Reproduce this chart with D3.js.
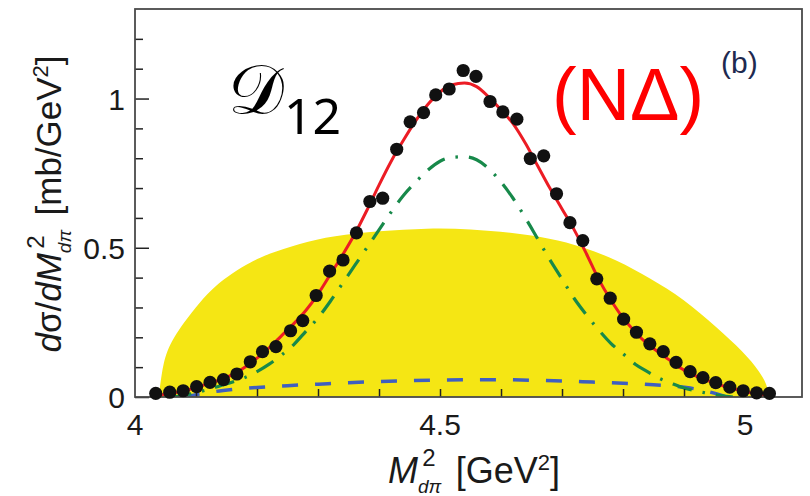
<!DOCTYPE html>
<html>
<head>
<meta charset="utf-8">
<script src="https://cdn.jsdelivr.net/npm/d3@7"></script>
<style>
  html, body { margin: 0; padding: 0; background: #fff; }
  svg { display: block; }
  text { font-family: "Liberation Sans", Arial, sans-serif; }
</style>
</head>
<body>
<svg id="chart" width="810" height="496"></svg>
<script>
// Invariant-mass distribution M^2_{dπ}: measured points, fit components and phase space.

// Measured cross section (GeV^2, mb/GeV^2)
const dataX = [4.034, 4.057, 4.079, 4.101, 4.123, 4.145, 4.167, 4.189, 4.209, 4.231,
  4.255, 4.275, 4.297, 4.319, 4.341, 4.363, 4.385, 4.406, 4.429, 4.451,
  4.473, 4.493, 4.515, 4.538, 4.559, 4.582, 4.603, 4.626, 4.648, 4.670,
  4.691, 4.713, 4.734, 4.757, 4.779, 4.801, 4.822, 4.844, 4.866, 4.887,
  4.910, 4.931, 4.952, 4.975, 4.997, 5.019, 5.040];
const dataY = [0.012, 0.016, 0.021, 0.035, 0.049, 0.058, 0.077, 0.118, 0.152, 0.169,
  0.222, 0.256, 0.340, 0.422, 0.459, 0.550, 0.655, 0.666, 0.830, 0.922,
  0.953, 1.012, 1.032, 1.094, 1.074, 0.990, 0.955, 0.931, 0.799, 0.808,
  0.681, 0.584, 0.524, 0.396, 0.331, 0.261, 0.217, 0.178, 0.152, 0.116,
  0.085, 0.065, 0.048, 0.033, 0.021, 0.014, 0.012];

// Full calculation (red solid)
const totalX = [4.035, 4.06, 4.08, 4.10, 4.12, 4.14, 4.16, 4.18, 4.20, 4.22, 4.24, 4.26, 4.28,
  4.30, 4.32, 4.34, 4.36, 4.38, 4.40, 4.42, 4.44, 4.46, 4.48, 4.50, 4.52, 4.54, 4.56,
  4.58, 4.60, 4.62, 4.64, 4.66, 4.68, 4.70, 4.72, 4.74, 4.76, 4.78, 4.80, 4.82, 4.84,
  4.86, 4.88, 4.90, 4.92, 4.94, 4.96, 4.98, 5.00, 5.02, 5.04];
const totalY = [0.004, 0.013, 0.02, 0.032, 0.045, 0.058, 0.075, 0.10, 0.13, 0.165, 0.205, 0.245, 0.29,
  0.345, 0.41, 0.475, 0.545, 0.625, 0.71, 0.79, 0.86, 0.925, 0.98, 1.022, 1.046, 1.052, 1.04,
  1.005, 0.962, 0.915, 0.85, 0.775, 0.70, 0.63, 0.56, 0.48, 0.395, 0.325, 0.265, 0.218, 0.178,
  0.148, 0.118, 0.09, 0.07, 0.054, 0.04, 0.028, 0.018, 0.01, 0.004];

// Resonance component (green dash-dot)
const resX = [4.06, 4.08, 4.10, 4.12, 4.14, 4.16, 4.18, 4.20, 4.22, 4.24, 4.26, 4.28, 4.30,
  4.32, 4.34, 4.36, 4.38, 4.40, 4.42, 4.44, 4.46, 4.48, 4.50, 4.52, 4.54, 4.56, 4.58,
  4.60, 4.62, 4.64, 4.66, 4.68, 4.70, 4.72, 4.74, 4.76, 4.78, 4.80, 4.82, 4.84, 4.86,
  4.88, 4.90, 4.92, 4.94, 4.96, 4.98];
const resY = [0.0, 0.005, 0.015, 0.025, 0.038, 0.05, 0.065, 0.085, 0.11, 0.14, 0.175, 0.22, 0.265,
  0.32, 0.38, 0.44, 0.50, 0.56, 0.62, 0.675, 0.72, 0.76, 0.79, 0.803, 0.805, 0.795, 0.765,
  0.72, 0.665, 0.60, 0.53, 0.46, 0.395, 0.33, 0.275, 0.225, 0.18, 0.145, 0.11, 0.085, 0.062,
  0.045, 0.03, 0.02, 0.012, 0.005, 0.0];

// Background component (blue dashed)
const bgX = [4.08, 4.10, 4.12, 4.16, 4.20, 4.25, 4.30, 4.35, 4.40, 4.45, 4.50, 4.55, 4.60,
  4.65, 4.70, 4.75, 4.80, 4.85, 4.88, 4.91, 4.94, 4.97];
const bgY = [0.0, 0.008, 0.015, 0.025, 0.032, 0.038, 0.043, 0.048, 0.052, 0.055, 0.057, 0.058, 0.058,
  0.056, 0.054, 0.05, 0.046, 0.041, 0.037, 0.03, 0.018, 0.0];

// Phase-space distribution (yellow area)
const psX = [4.039, 4.040, 4.041, 4.044, 4.047, 4.052, 4.064, 4.079, 4.107, 4.13, 4.161, 4.19, 4.216, 4.27,
  4.325, 4.40, 4.48, 4.55, 4.62, 4.68, 4.734, 4.79, 4.844, 4.899, 4.954, 4.997, 5.025, 5.036, 5.038, 5.039];
const psY = [0, 0.02, 0.035, 0.08, 0.113, 0.152, 0.2, 0.247, 0.32, 0.37, 0.418, 0.452, 0.478, 0.515,
  0.54, 0.556, 0.566, 0.563, 0.55, 0.532, 0.504, 0.459, 0.398, 0.33, 0.232, 0.152, 0.083, 0.04, 0.015, 0];

// Axis ticks
const xMinorTicks = d3.range(41, 51).map(v => v / 10);
const xTickLabels = [4, 4.5, 5];
const yMinorTicks = d3.range(1, 13).map(v => v / 10);
const yMajorTicks = [0, 0.5, 1];

const svg = d3.select("#chart");
const plotLeft = 135, plotRight = 802, plotTop = 9, plotBottom = 397;

const x = d3.scaleLinear().domain([4, 5.0934]).range([plotLeft, plotRight]);
const y = d3.scaleLinear().domain([0, 1.3]).range([plotBottom, plotTop]);

const zip = (xs, ys) => xs.map((v, i) => [v, ys[i]]);

svg.append("defs").append("clipPath").attr("id", "plotClip")
  .append("rect").attr("x", plotLeft).attr("y", plotTop)
  .attr("width", plotRight - plotLeft).attr("height", plotBottom - plotTop);

const plot = svg.append("g").attr("clip-path", "url(#plotClip)");

// phase space
plot.append("path")
  .datum(zip(psX, psY))
  .attr("fill", "#f5e614")
  .attr("d", d3.area().x(d => x(d[0])).y0(y(0)).y1(d => y(d[1])).curve(d3.curveBasis));

const line = d3.line().x(d => x(d[0])).y(d => y(d[1])).curve(d3.curveMonotoneX);

plot.append("path").datum(zip(bgX, bgY))
  .attr("fill", "none").attr("stroke", "#3f5fc0").attr("stroke-width", 3.5)
  .attr("stroke-dasharray", "16,17").attr("d", line);

plot.append("path").datum(zip(resX, resY))
  .attr("fill", "none").attr("stroke", "#17894a").attr("stroke-width", 3.2)
  .attr("stroke-dasharray", "20,11,2.5,11").attr("d", line);

plot.append("path").datum(zip(totalX, totalY))
  .attr("fill", "none").attr("stroke", "#ec1c24").attr("stroke-width", 3).attr("d", line);

// axes ticks (inward)
const xAxis = d3.axisBottom(x).tickValues(xMinorTicks).tickSizeInner(-8).tickSizeOuter(0).tickFormat("");
const gx = svg.append("g").attr("transform", `translate(0,${plotBottom})`).call(xAxis);
gx.select(".domain").remove();
gx.selectAll("line").attr("stroke", "#222").attr("stroke-width", 1.5);

const yAxisMinor = d3.axisLeft(y)
  .tickValues(yMinorTicks.filter(v => Math.abs(v - 0.5) > 1e-6 && Math.abs(v - 1) > 1e-6))
  .tickSizeInner(-8).tickSizeOuter(0).tickFormat("");
const gy = svg.append("g").attr("transform", `translate(${plotLeft},0)`).call(yAxisMinor);
gy.select(".domain").remove();
gy.selectAll("line").attr("stroke", "#222").attr("stroke-width", 1.5);

const yAxisMajor = d3.axisLeft(y).tickValues(yMajorTicks).tickSizeInner(-14).tickSizeOuter(0)
  .tickPadding(10).tickFormat(d3.format("~g"));
const gy2 = svg.append("g").attr("transform", `translate(${plotLeft},0)`).call(yAxisMajor);
gy2.select(".domain").remove();
gy2.selectAll("line").attr("stroke", "#222").attr("stroke-width", 1.5);
gy2.selectAll("text").attr("font-size", 30).attr("fill", "#1a1a1a")
  .attr("font-family", "Liberation Sans, Arial, sans-serif").attr("dy", "0.35em");

// x tick labels
svg.append("g").selectAll("text").data(xTickLabels).join("text")
  .attr("x", d => x(d)).attr("y", 435)
  .attr("text-anchor", "middle").attr("font-size", 30).attr("fill", "#1a1a1a")
  .text(d => d3.format("~g")(d));

// frame
svg.append("rect").attr("x", plotLeft).attr("y", plotTop)
  .attr("width", plotRight - plotLeft).attr("height", plotBottom - plotTop)
  .attr("fill", "none").attr("stroke", "#4a4a4a").attr("stroke-width", 1.8);

// data points
svg.append("g").selectAll("circle").data(zip(dataX, dataY)).join("circle")
  .attr("cx", d => x(d[0])).attr("cy", d => y(d[1])).attr("r", 6.6).attr("fill", "#111");

// x-axis title
const xt = svg.append("text").attr("x", 474).attr("y", 483).attr("text-anchor", "middle")
  .attr("font-size", 36).attr("fill", "#1a1a1a");
xt.append("tspan").attr("font-style", "italic").text("M");
xt.append("tspan").attr("font-size", 19).attr("font-style", "italic").attr("dy", 10).text("dπ");
xt.append("tspan").attr("font-size", 24).attr("dx", -19).attr("dy", -27).text("2");
xt.append("tspan").attr("dx", 20).attr("dy", 17).text("[GeV");
xt.append("tspan").attr("font-size", 22).attr("dy", -13).text("2");
xt.append("tspan").attr("dy", 13).text("]");

// y-axis title
const yt = svg.append("text").attr("transform", "translate(61,204) rotate(-90)")
  .attr("text-anchor", "middle").attr("font-size", 35).attr("fill", "#1a1a1a");
yt.append("tspan").attr("font-style", "italic").text("d");
yt.append("tspan").text("σ/");
yt.append("tspan").attr("font-style", "italic").text("dM");
yt.append("tspan").attr("font-size", 19).attr("font-style", "italic").attr("dy", 10).text("dπ");
yt.append("tspan").attr("font-size", 24).attr("dx", -19).attr("dy", -27).text("2");
yt.append("tspan").attr("dx", 20).attr("dy", 17).text("[mb/GeV");
yt.append("tspan").attr("font-size", 22).attr("dy", -13).text("2");
yt.append("tspan").attr("dy", 13).text("]");

// configuration label
const dl = svg.append("text").attr("x", 228).attr("y", 114).attr("fill", "#000");
dl.append("tspan").attr("font-size", 70).attr("font-family", "DejaVu Sans, DejaVu Serif, serif").text("𝒟");
dl.append("tspan").attr("font-size", 50).attr("font-family", "Noto Sans, sans-serif").attr("dy", 20).text("12");

svg.append("text").attr("x", 552).attr("y", 120).attr("font-size", 74)
  .attr("font-family", "Noto Sans, sans-serif").attr("fill", "#ff0000").text("(NΔ)");

svg.append("text").attr("x", 721).attr("y", 73).attr("font-size", 30)
  .attr("font-family", "Noto Sans, sans-serif").attr("fill", "#1e2a50").text("(b)");
</script>
</body>
</html>
